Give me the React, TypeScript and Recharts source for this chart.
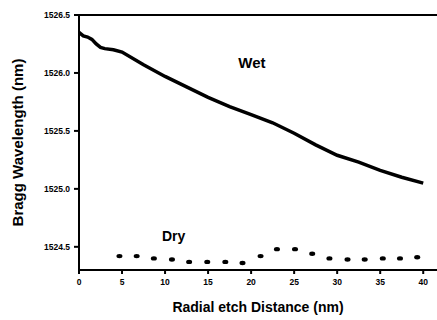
import { LineChart, Line, XAxis, YAxis, ReferenceLine, ReferenceDot, Label } from "recharts";

// Wet (solid line) readings
const wetX = [0, 0.5, 1, 1.5, 2, 2.5, 3, 4, 5, 7.5, 10, 12.5, 15, 17.5, 20, 22.5, 25, 27.5, 30, 32.5, 35, 37.5, 40];
const wetY = [1526.35, 1526.32, 1526.31, 1526.29, 1526.25, 1526.22, 1526.21, 1526.2, 1526.18, 1526.07, 1525.97, 1525.88, 1525.79, 1525.71, 1525.64, 1525.57, 1525.48, 1525.38, 1525.29, 1525.23, 1525.16, 1525.1, 1525.05];

// Dry (dotted) readings
const dryX = [4.7, 6.7, 8.7, 10.8, 12.8, 14.9, 17.0, 19.0, 21.1, 23.0, 25.1, 27.1, 29.1, 31.2, 33.2, 35.3, 37.3, 39.3];
const dryY = [1524.42, 1524.42, 1524.4, 1524.39, 1524.37, 1524.37, 1524.37, 1524.36, 1524.42, 1524.48, 1524.48, 1524.44, 1524.4, 1524.39, 1524.39, 1524.4, 1524.4, 1524.41];

const xTicks = [0, 5, 10, 15, 20, 25, 30, 35, 40];
const yTicks = [1524.5, 1525.0, 1525.5, 1526.0, 1526.5];

const wetData = wetX.map((x, i) => ({ x, y: wetY[i] }));
const dryData = dryX.map((x, i) => ({ x, y: dryY[i] }));

const font = "'Liberation Sans', Arial, sans-serif";
const tickStyle = { fontSize: 8.5, fontWeight: 700, fill: "#000", fontFamily: font };

const DryDot = (props: any) => {
  const { cx, cy } = props;
  if (cx == null || cy == null) return null;
  return <ellipse cx={cx} cy={cy} rx={3} ry={2.2} fill="#000" />;
};

export default function App() {
  return (
    <div style={{ position: "absolute", left: 0, top: 0, background: "#fff" }}>
      <LineChart width={437} height={320} margin={{ top: 15, right: 0, bottom: 0, left: 0 }}>
        <XAxis
          type="number"
          dataKey="x"
          height={50}
          domain={[0, 41.6]}
          ticks={xTicks}
          allowDataOverflow
          stroke="#000"
          strokeWidth={2}
          tickSize={4}
          tickMargin={5}
          tick={tickStyle}
        >
          <Label
            value="Radial etch Distance (nm)"
            position="insideBottom"
            offset={8}
            style={{ fontSize: 14, fontWeight: 700, fill: "#000", fontFamily: font }}
          />
        </XAxis>
        <YAxis
          type="number"
          dataKey="y"
          width={79}
          domain={[1524.3, 1526.5]}
          ticks={yTicks}
          allowDataOverflow
          stroke="#000"
          strokeWidth={2}
          tickSize={5}
          tickMargin={4}
          tick={tickStyle}
          tickFormatter={(v: number) => v.toFixed(1)}
        >
          <Label
            value="Bragg Wavelength (nm)"
            angle={-90}
            position="insideLeft"
            offset={18}
            style={{ fontSize: 15, fontWeight: 700, fill: "#000", fontFamily: font, textAnchor: "middle" }}
          />
        </YAxis>
        <ReferenceLine y={1526.5} stroke="#000" strokeWidth={2} />
        <Line
          data={wetData}
          dataKey="y"
          stroke="#000"
          strokeWidth={3.5}
          dot={false}
          isAnimationActive={false}
        />
        <Line
          data={dryData}
          dataKey="y"
          stroke="none"
          dot={<DryDot />}
          activeDot={false}
          isAnimationActive={false}
        />
        <ReferenceDot x={20.1} y={1526.09} r={0} stroke="none">
          <Label value="Wet" position="center" style={{ fontSize: 15, fontWeight: 700, fill: "#000", fontFamily: font }} />
        </ReferenceDot>
        <ReferenceDot x={11.0} y={1524.59} r={0} stroke="none">
          <Label value="Dry" position="center" style={{ fontSize: 14, fontWeight: 700, fill: "#000", fontFamily: font }} />
        </ReferenceDot>
      </LineChart>
    </div>
  );
}
